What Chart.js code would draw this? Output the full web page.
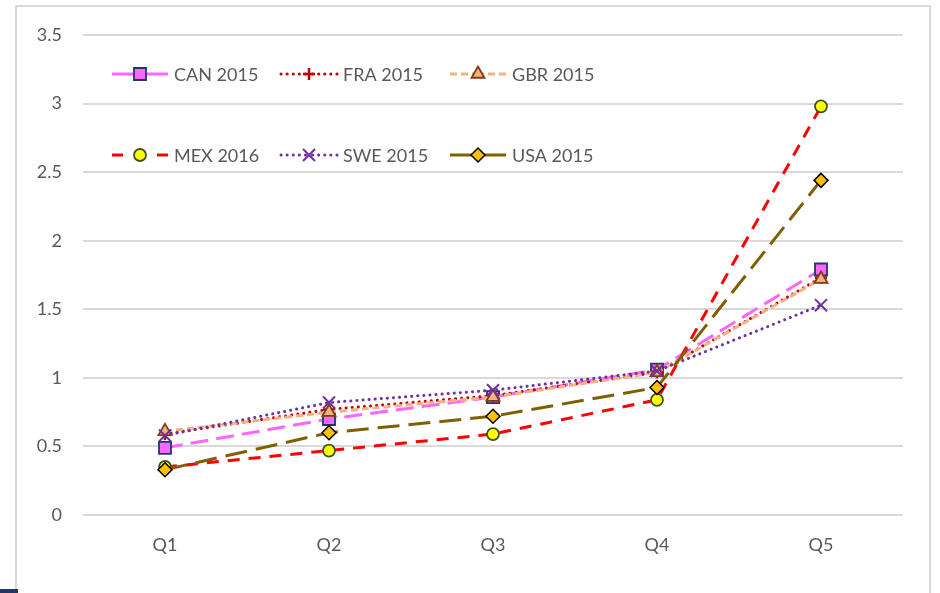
<!DOCTYPE html>
<html><head><meta charset="utf-8">
<script src="https://cdn.jsdelivr.net/npm/chart.js@4.4.0/dist/chart.umd.min.js"></script>
<style>html,body{margin:0;padding:0;background:#fff;overflow:hidden}#wrap{width:940px;height:593px;position:relative}</style>
</head><body><div id="wrap"><canvas id="c" width="940" height="593"></canvas></div>
<script>
const categories = ['Q1', 'Q2', 'Q3', 'Q4', 'Q5'];
const seriesNames = ['CAN 2015', 'FRA 2015', 'GBR 2015', 'MEX 2016', 'SWE 2015', 'USA 2015'];
const can2015 = [0.49, 0.70, 0.86, 1.06, 1.79];
const fra2015 = [0.59, 0.77, 0.87, 1.04, 1.73];
const gbr2015 = [0.61, 0.75, 0.86, 1.04, 1.72];
const mex2016 = [0.35, 0.47, 0.59, 0.84, 2.98];
const swe2015 = [0.58, 0.82, 0.91, 1.05, 1.53];
const usa2015 = [0.33, 0.60, 0.72, 0.93, 2.44];
const yMin = 0, yMax = 3.5, yStep = 0.5;

const FONT = 'Lato, "Open Sans", sans-serif';
const TXT = '#595959';

const styles = [
  {color:'#FF66FF', width:3, dash:[18,8], cap:'butt', ps:'rect', r:8.5, bg:'#FF66FF', bc:'#1F3864', bw:1.8, legendDash:[]},
  {color:'#C00000', width:3, dash:[0.1,6], cap:'round', ps:'cross', r:6, bg:'#C00000', bc:'#C00000', bw:2.5, legendDash:[0.1,6]},
  {color:'#F4B183', width:3, dash:[7,4], cap:'butt', ps:'triangle', r:7.5, bg:'#F4B183', bc:'#843C0C', bw:1.8, legendDash:[7,4]},
  {color:'#FF0000', width:3, dash:[12,9], cap:'butt', ps:'circle', r:6, bg:'#FFFF00', bc:'#3B5323', bw:1.8, legendDash:[11,40]},
  {color:'#7030A0', width:3, dash:[0.1,6], cap:'round', ps:'crossRot', r:8.5, bg:'#7030A0', bc:'#7030A0', bw:2, legendDash:[0.1,6]},
  {color:'#7F6000', width:3, dash:[22,9], cap:'butt', ps:'rectRot', r:7, bg:'#FFC000', bc:'#000000', bw:1.5, legendDash:[]}
];
const seriesData = [can2015, fra2015, gbr2015, mex2016, swe2015, usa2015];

const datasets = seriesData.map((d, i) => {
  const s = styles[i];
  return {
    label: seriesNames[i], data: d, order: seriesData.length - 1 - i,
    borderColor: s.color, borderWidth: s.width, borderDash: s.dash, borderCapStyle: s.cap,
    pointStyle: s.ps, pointRadius: s.r, pointBackgroundColor: s.bg, pointBorderColor: s.bc,
    pointBorderWidth: s.bw, pointHoverRadius: s.r, tension: 0, fill: false
  };
});

const framePlugin = {
  id: 'frame',
  beforeDraw(chart) {
    const ctx = chart.ctx;
    ctx.save();
    ctx.fillStyle = '#fff';
    ctx.fillRect(0, 0, chart.width, chart.height);
    ctx.strokeStyle = '#D9D9D9';
    ctx.lineWidth = 2;
    ctx.strokeRect(16, 6, 914, 620);
    ctx.fillStyle = '#1F3864';
    ctx.fillRect(0, 589, 18, 4);
    ctx.restore();
  }
};

const legendPlugin = {
  id: 'customLegend',
  afterDraw(chart) {
    const ctx = chart.ctx;
    const x0s = [112, 281, 450];
    const ys = [74, 155];
    const lineLen = 56;
    ctx.save();
    chart.data.datasets.forEach((ds, i) => {
      const s = styles[i];
      const x = x0s[i % 3], y = ys[Math.floor(i / 3)];
      const xm = x + lineLen / 2;
      ctx.strokeStyle = s.color; ctx.lineWidth = s.width; ctx.lineCap = s.cap;
      ctx.setLineDash(s.legendDash);
      ctx.beginPath(); ctx.moveTo(x, y); ctx.lineTo(xm, y); ctx.stroke();
      ctx.beginPath(); ctx.moveTo(x + lineLen, y); ctx.lineTo(xm, y); ctx.stroke();
      ctx.setLineDash([]);
      ctx.lineCap = 'butt';
      ctx.fillStyle = s.bg; ctx.strokeStyle = s.bc; ctx.lineWidth = s.bw;
      Chart.helpers.drawPoint(ctx, {pointStyle: s.ps, radius: s.r, rotation: 0, borderWidth: s.bw}, xm, y);
      ctx.fillStyle = TXT;
      ctx.font = '18px ' + FONT;
      ctx.textAlign = 'left'; ctx.textBaseline = 'middle';
      ctx.fillText(ds.label, x + lineLen + 6, y + 1);
    });
    ctx.restore();
  }
};

new Chart(document.getElementById('c'), {
  type: 'line',
  data: { labels: categories, datasets },
  options: {
    responsive: false, animation: false, devicePixelRatio: 1,
    layout: { padding: { top: 35, right: 37, left: 0, bottom: 0 } },
    plugins: { legend: { display: false }, tooltip: { enabled: false } },
    scales: {
      x: {
        offset: true,
        grid: { display: false, drawTicks: false },
        border: { display: false },
        ticks: { color: TXT, font: { family: FONT, size: 18 }, padding: 19 },
        afterFit(scale) { scale.height = 78; }
      },
      y: {
        min: yMin, max: yMax,
        grid: { color: '#D9D9D9', lineWidth: 2, drawTicks: false },
        border: { display: false },
        ticks: { stepSize: yStep, color: TXT, font: { family: FONT, size: 18 }, padding: 21,
                 callback: v => String(Math.round(v * 10) / 10) },
        afterFit(scale) { scale.width = 83; }
      }
    }
  },
  plugins: [framePlugin, legendPlugin]
});
</script></body></html>
